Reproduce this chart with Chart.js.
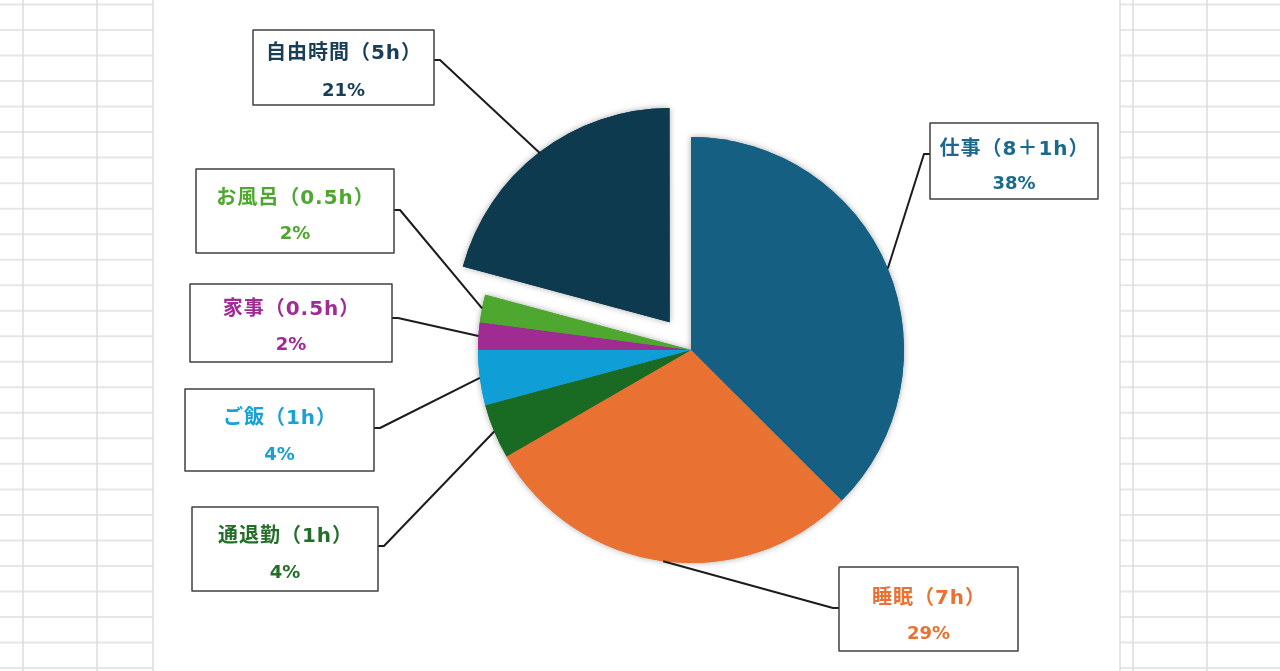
<!DOCTYPE html>
<html>
<head>
<meta charset="utf-8">
<script src="https://cdn.jsdelivr.net/npm/chart.js@4"></script>
<style>
html,body{margin:0;padding:0;background:#fff;overflow:hidden}
#wrap{width:1280px;height:671px;position:relative}
canvas{display:block}
</style>
</head>
<body>
<div id="wrap"><canvas id="c" width="1280" height="671"></canvas></div>
<script>
// ---- data ----
const categories = ['仕事', '睡眠', '通退勤', 'ご飯', '家事', 'お風呂', '自由時間'];
const hourLabels = ['8＋1h', '7h', '1h', '1h', '0.5h', '0.5h', '5h'];
const hours = [9, 7, 1, 1, 0.5, 0.5, 5];

// ---- styles ----
const sliceColors = ['#156082', '#E97132', '#196B24', '#0F9ED5', '#A02B93', '#4EA72E', '#0D3A4E'];
const textColors = ['#1B6A8E', '#E97132', '#236F2A', '#1AA0D6', '#A02B93', '#4EA72E', '#183F57'];
const sliceOffsets = [0, 0, 0, 0, 0, 0, 140];
const labelBoxes = [
  {x: 930, y: 123, w: 168, h: 76, t1: 148, t2: 182, ay: 154, side: 'left'},
  {x: 839, y: 567, w: 179, h: 84, t1: 597, t2: 632, ay: 608, side: 'left'},
  {x: 192, y: 507, w: 186, h: 84, t1: 535, t2: 571, ay: 546, side: 'right'},
  {x: 185, y: 389, w: 189, h: 82, t1: 417, t2: 453, ay: 428, side: 'right'},
  {x: 190, y: 284, w: 202, h: 78, t1: 308, t2: 343, ay: 318, side: 'right'},
  {x: 196, y: 169, w: 198, h: 84, t1: 197, t2: 232, ay: 210, side: 'right'},
  {x: 253, y: 30, w: 181, h: 75, t1: 52, t2: 89, ay: 60, side: 'right'}
];
const titleFont = 'bold 20px "DejaVu Sans", "Noto Sans CJK JP"';
const pctFont = 'bold 18px "DejaVu Sans", "Noto Sans CJK JP"';
const textShiftY = 2;

const gridPlugin = {
  id: 'sheetGrid',
  beforeDraw(chart) {
    const ctx = chart.ctx;
    ctx.save();
    ctx.fillStyle = '#ffffff';
    ctx.fillRect(0, 0, chart.width, chart.height);
    ctx.strokeStyle = '#E6E6E6';
    ctx.lineWidth = 2;
    for (let k = 0; k < 28; k++) {
      const yy = 4.5 + k * 25.52;
      ctx.beginPath();
      ctx.moveTo(0, yy); ctx.lineTo(153, yy);
      ctx.moveTo(1120, yy); ctx.lineTo(1280, yy);
      ctx.stroke();
    }
    ctx.strokeStyle = '#DCDCDC';
    ctx.lineWidth = 1.5;
    [23, 97, 153, 1120, 1133, 1207].forEach(xx => {
      ctx.beginPath();
      ctx.moveTo(xx, 0); ctx.lineTo(xx, chart.height);
      ctx.stroke();
    });
    ctx.restore();
  }
};

const shadowPlugin = {
  id: 'pieShadow',
  beforeDatasetDraw(chart, args) {
    const ctx = chart.ctx;
    ctx.save();
    ctx.shadowColor = 'rgba(0,0,0,0.35)';
    ctx.shadowBlur = 6;
    args.meta.controller.draw();
    ctx.restore();
  }
};

function drawSpaced(ctx, text, cx, cy, spacing) {
  if ('letterSpacing' in ctx) {
    ctx.letterSpacing = spacing + 'px';
    const w = ctx.measureText(text).width;
    ctx.textAlign = 'left';
    ctx.fillText(text, cx - (w - spacing) / 2, cy);
    ctx.letterSpacing = '0px';
  } else {
    const chars = Array.from(text);
    const widths = chars.map(c => ctx.measureText(c).width);
    const total = widths.reduce((a, b) => a + b, 0) + spacing * (chars.length - 1);
    let x = cx - total / 2;
    ctx.textAlign = 'left';
    chars.forEach((c, k) => { ctx.fillText(c, x, cy); x += widths[k] + spacing; });
  }
}

const labelPlugin = {
  id: 'boxLabels',
  afterDatasetsDraw(chart) {
    const ctx = chart.ctx;
    const meta = chart.getDatasetMeta(0);
    const total = hours.reduce((a, b) => a + b, 0);
    ctx.save();
    meta.data.forEach((arc, i) => {
      const p = arc.getProps(['x', 'y', 'startAngle', 'endAngle', 'outerRadius'], true);
      const mid = (p.startAngle + p.endAngle) / 2;
      const r = p.outerRadius + (arc.options.offset || 0) / 4;
      const px = p.x + Math.cos(mid) * r;
      const py = p.y + Math.sin(mid) * r;
      const b = labelBoxes[i];
      const edge = b.side === 'left' ? b.x : b.x + b.w;
      const elbow = b.side === 'left' ? b.x - 6 : b.x + b.w + 6;
      ctx.beginPath();
      ctx.moveTo(px, py);
      ctx.lineTo(elbow, b.ay);
      ctx.lineTo(edge, b.ay);
      ctx.strokeStyle = '#1c1c1c';
      ctx.lineWidth = 2;
      ctx.lineJoin = 'round';
      ctx.stroke();
    });
    meta.data.forEach((arc, i) => {
      const b = labelBoxes[i];
      ctx.fillStyle = '#ffffff';
      ctx.fillRect(b.x, b.y, b.w, b.h);
      ctx.strokeStyle = '#404040';
      ctx.lineWidth = 1.5;
      ctx.strokeRect(b.x, b.y, b.w, b.h);
      const cx = b.x + b.w / 2;
      ctx.fillStyle = textColors[i];
      ctx.textBaseline = 'middle';
      ctx.font = titleFont;
      drawSpaced(ctx, categories[i] + '（' + hourLabels[i] + '）', cx, b.t1 + textShiftY, 1);
      ctx.font = pctFont;
      drawSpaced(ctx, Math.round(hours[i] / total * 100) + '%', cx, b.t2 + textShiftY, 0);
    });
    ctx.restore();
  }
};

new Chart(document.getElementById('c'), {
  type: 'pie',
  data: {
    labels: categories,
    datasets: [{
      data: hours,
      backgroundColor: sliceColors,
      borderWidth: 0,
      offset: sliceOffsets
    }]
  },
  options: {
    responsive: false,
    animation: false,
    events: [],
    radius: 213,
    layout: {padding: {left: 102, top: 29, right: 0, bottom: 0}},
    plugins: {
      legend: {display: false},
      tooltip: {enabled: false}
    }
  },
  plugins: [gridPlugin, shadowPlugin, labelPlugin]
});
</script>
</body>
</html>
